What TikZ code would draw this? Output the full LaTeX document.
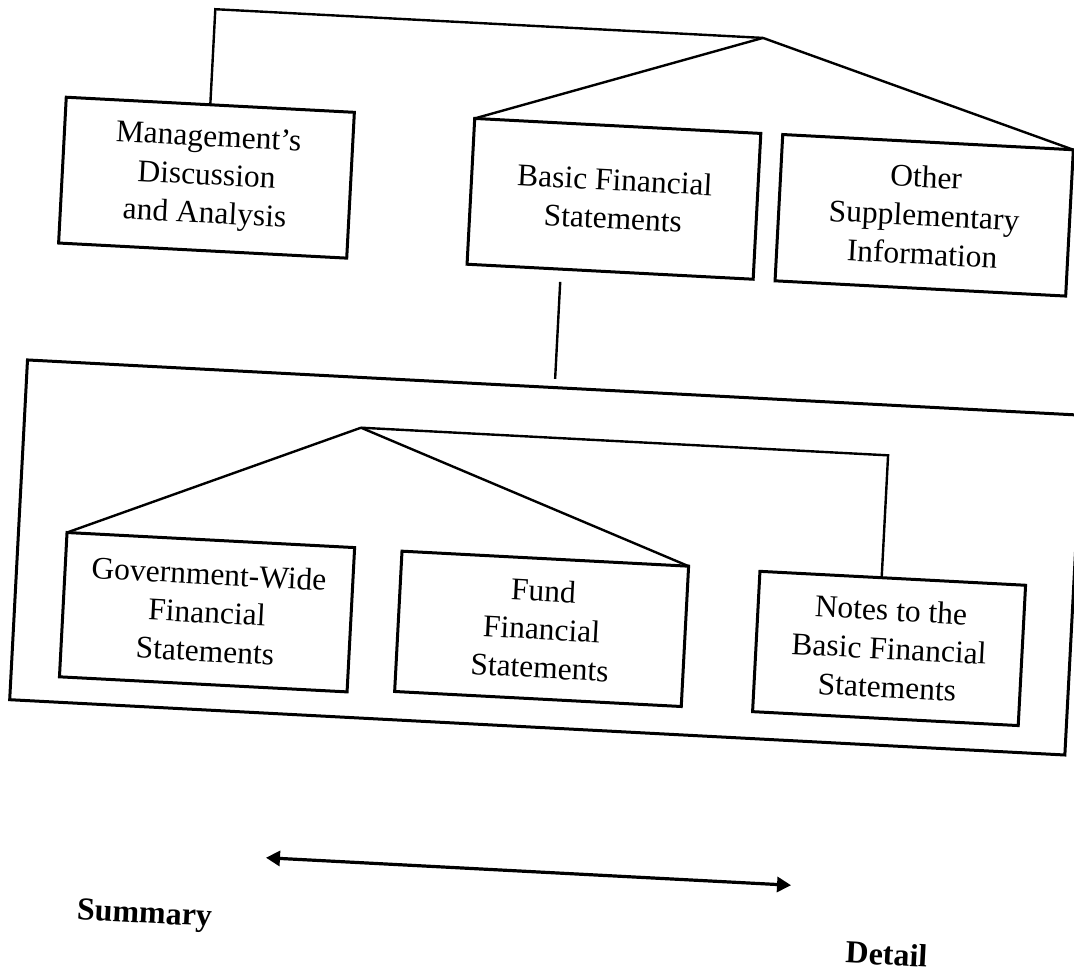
\documentclass[tikz,border=0pt]{standalone}
\usepackage{fontspec}
\setmainfont{Liberation Serif}
\usetikzlibrary{arrows.meta}
\begin{document}
\begin{tikzpicture}[x=1pt,y=-1pt,
  box/.style={draw, line width=3pt, rectangle, align=center, inner sep=0pt, outer sep=0pt,
              font=\fontsize{31.5}{38.5}\selectfont, transform shape},
  conn/.style={line width=2.4pt},
  lbl/.style={font=\bfseries\fontsize{32}{38}\selectfont, inner sep=0pt, transform shape, anchor=base},
  tip/.style={line width=3.2pt, {Triangle[length=14pt,width=15pt]}-{Triangle[length=14pt,width=15pt]}}]
\useasboundingbox (0,0) rectangle (1074,973);
\fill[white] (0,0) rectangle (1074,973);
\clip (0,0) rectangle (1074,973);
\begin{scope}[rotate around={-3:(537,486)}]
  % top level
  \node[box, minimum width=288.5pt, minimum height=146pt] (mda) at (190.8,195.4) {Management's\\Discussion\\and Analysis};
  \node[box, minimum width=286.5pt, minimum height=146pt] (bfs) at (598.8,195.2) {Basic Financial\\Statements};
  \node[box, minimum width=291pt, minimum height=146.5pt] (osi) at (909.5,195.4) {Other\\Supplementary\\Information};
  % big frame
  \node[box, minimum width=1056.6pt, minimum height=340.2pt] (outer) at (549.9,556.9) {};
  \node[box, minimum width=288pt, minimum height=144.5pt] (gw) at (214.1,629.3) {Government-Wide\\Financial\\Statements};
  \node[box, minimum width=287pt, minimum height=140.5pt] (fund) at (549.1,628.4) {Fund\\Financial\\Statements};
  \node[box, minimum width=266pt, minimum height=140.5pt] (notes) at (897.1,629.8) {Notes to the\\Basic Financial\\Statements};
  % connectors, top
  \coordinate (apexA) at (739.2,26.7);
  \draw[conn] (mda.north) |- (apexA);
  \draw[conn] (apexA) -- (bfs.north west);
  \draw[conn] (apexA) -- (osi.north east);
  \coordinate (stemtop) at (549.5,281);
  \coordinate (stembot) at (549.5,378);
  \draw[conn] (stemtop) -- (stembot);
  % connectors, inner
  \coordinate (apexB) at (358.2,437);
  \coordinate (nlink) at (886,559.55);
  \draw[conn] (apexB) -- (gw.north west);
  \draw[conn] (apexB) -- (fund.north east);
  \draw[conn] (apexB) -| (nlink);
  % summary / detail
  \coordinate (sumtip) at (285.8,871.4);
  \coordinate (dettip) at (811.6,871.4);
  \draw[tip] (sumtip) -- (dettip);
  \node[lbl] (summary) at (167.4,943) {Summary};
  \node[lbl] (detail) at (910.6,946.1) {Detail};
\end{scope}
\end{tikzpicture}
\end{document}
